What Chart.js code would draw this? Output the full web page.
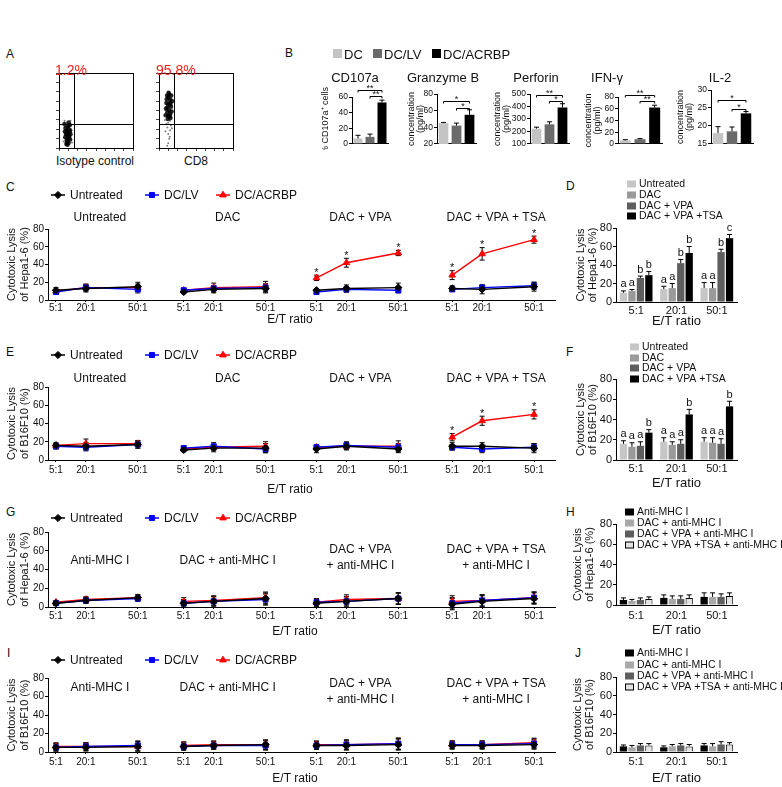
<!DOCTYPE html>
<html>
<head>
<meta charset="utf-8">
<script src="https://cdn.jsdelivr.net/npm/chart.js@4.4.1/dist/chart.umd.min.js"></script>
<style>
  body { margin: 0; background: #fff; }
  #fig { position: relative; width: 782px; height: 787px; overflow: hidden; background: #fff;
         font-family: 'Liberation Sans', Arial, sans-serif; color: #111; }
  #fig canvas { position: absolute; }
  .t { position: absolute; white-space: nowrap; line-height: 1; }
  .sw { position: absolute; }
</style>
</head>
<body>
<div id="fig"></div>
<script>
const FONT = "'Liberation Sans', Arial, sans-serif";

// ---------- A: flow cytometry dots (log decades 0..4) ----------
const isotypeDots = [[0.45,0.5],[0.5,0.7],[0.42,0.9],[0.55,0.62],[0.38,0.75],[0.5,1.02],[0.56,0.86],[0.42,0.4],
  [0.52,0.28],[0.48,1.18],[0.36,1.06],[0.6,0.95],[0.34,0.58],[0.6,0.45],[0.46,0.18],[0.58,1.22],[0.3,1.28],
  [0.52,1.36],[0.44,0.66],[0.53,0.52],[0.4,0.22],[0.62,0.74],[0.32,0.88],[0.47,0.82]];
const isotypeTail = [[0.3,1.45],[0.62,1.45],[0.25,0.35],[0.7,0.3],[0.28,1.1]];
const cd8Dots = [[0.5,1.7],[0.55,2.0],[0.5,2.3],[0.6,2.6],[0.45,1.9],[0.65,2.2],[0.4,2.4],[0.55,2.85],[0.6,1.8],
  [0.45,2.15],[0.7,2.5],[0.5,2.7],[0.36,1.75],[0.62,1.6],[0.42,2.6],[0.58,2.4],[0.48,1.55],[0.66,2.8],[0.52,2.95],
  [0.38,2.1],[0.68,1.95],[0.44,2.8],[0.56,1.7],[0.62,2.35]];
const cd8Tail = [[0.5,1.35],[0.45,1.1],[0.6,0.95],[0.5,0.75],[0.55,0.5],[0.4,1.3],[0.65,1.2],[0.5,0.25],[0.35,0.9],
  [0.58,0.6],[0.44,0.12],[0.6,1.45],[0.32,1.5],[0.7,1.05]];
const gateX = 0.8, gateY = 1.3;

// ---------- B: cytokines ----------
const bGroups = ['DC', 'DC/LV', 'DC/ACRBP'];
const cd107a = [7, 9, 53],        cd107aErr = [4, 3.5, 3];
const granzymeB = [45, 42, 55],   granzymeBErr = [0.8, 3, 6];
const perforin = [222, 257, 392], perforinErr = [12, 20, 30];
const ifng = [6, 8, 62],          ifngErr = [1.2, 1, 4];
const il2 = [18, 18.5, 23.5],     il2Err = [1.8, 1.2, 0.5];
// [stars, from bar, to bar, height]
const cd107aSig = [['**', 0, 2, 69], ['**', 1, 2, 61]];
const granzymeSig = [['*', 0, 2, 71], ['*', 1, 2, 63]];
const perforinSig = [['**', 0, 2, 490], ['*', 1, 2, 440]];
const ifngSig = [['**', 0, 2, 84], ['**', 1, 2, 73]];
const il2Sig = [['*', 0, 2, 27.2], ['*', 1, 2, 24.8]];

// ---------- C, E, G, I: lysis curves, per group [5:1, 20:1, 50:1] ----------
const ratios = ['5:1', '20:1', '50:1'];
const effectors = ['Untreated', 'DC/LV', 'DC/ACRBP'];
const drugGroups = [['Untreated'], ['DAC'], ['DAC + VPA'], ['DAC + VPA + TSA']];
const mhcGroups = [['Anti-MHC I'], ['DAC + anti-MHC I'], ['DAC + VPA', '+ anti-MHC I'], ['DAC + VPA + TSA', '+ anti-MHC I']];

const hepaUntreated = [[11, 13, 15], [9, 12, 13], [11, 13, 14], [13, 12, 15]];
const hepaDCLV      = [[9, 14, 12], [11, 13, 14], [9, 12, 11], [12, 14, 16]];
const hepaACRBP     = [[10, 14, 14], [11, 14, 15], [25, 42, 53], [28, 52, 68]];
const hepaUntreatedErr = [[3, 4, 5], [2, 4, 5], [2, 4, 5], [3, 5, 5]];
const hepaDCLVErr      = [[2, 3, 4], [2, 3, 4], [2, 3, 3], [2, 3, 4]];
const hepaACRBPErr     = [[2, 4, 4], [2, 5, 6], [3, 5, 3], [5, 7, 4]];
const hepaStars = [2, 3];

const b16Untreated = [[16, 15, 17], [11, 13, 13], [12, 15, 12], [15, 15, 13]];
const b16DCLV      = [[15, 14, 17], [13, 15, 12], [14, 16, 14], [14, 12, 14]];
const b16ACRBP     = [[16, 18, 18], [12, 14, 15], [14, 15, 15], [25, 43, 50]];
const b16UntreatedErr = [[3, 4, 4], [2, 4, 5], [4, 4, 4], [4, 4, 5]];
const b16DCLVErr      = [[3, 4, 4], [2, 4, 4], [3, 4, 4], [3, 4, 4]];
const b16ACRBPErr     = [[2, 5, 3], [2, 3, 5], [2, 3, 6], [4, 5, 5]];
const b16Stars = [3];

const mhcHepaUntreated = [[4, 7, 10], [4, 6, 9], [4, 6, 9], [3, 6, 9]];
const mhcHepaDCLV      = [[4, 7, 9], [4, 6, 8], [5, 6, 9], [4, 7, 10]];
const mhcHepaACRBP     = [[5, 8, 10], [6, 7, 10], [5, 8, 9], [6, 7, 10]];
const mhcHepaErr       = [[2, 3, 3], [4, 5, 6], [4, 5, 6], [6, 6, 6]];

const mhcB16Untreated = [[5, 5, 6], [6, 7, 8], [7, 7, 8], [7, 7, 8]];
const mhcB16DCLV      = [[5, 6, 7], [6, 7, 7], [7, 8, 9], [8, 8, 9]];
const mhcB16ACRBP     = [[6, 6, 6], [7, 8, 8], [8, 8, 9], [8, 8, 10]];
const mhcB16Err       = [[4, 4, 5], [4, 4, 5], [4, 5, 6], [4, 4, 5]];

// ---------- D, F, H, J: grouped bars, per treatment [5:1, 20:1, 50:1] ----------
const drugLabels = ['Untreated', 'DAC', 'DAC + VPA', 'DAC + VPA +TSA'];
const hepaBarMeans = [[10, 14, 15], [12, 15, 15], [26, 42, 54], [29, 53, 69]];
const hepaBarErr = [[2, 3, 6], [1.5, 5, 6], [2, 4, 3], [4, 7, 4]];
const hepaBarLetters = [['a', 'a', 'a'], ['a', 'a', 'a'], ['b', 'b', 'b'], ['b', 'b', 'c']];
const b16BarMeans = [[16, 18, 18], [13, 15, 17], [14, 16, 16], [27, 45, 53]];
const b16BarErr = [[3, 4, 4], [4, 3, 5], [4, 4, 5], [3, 5, 5]];
const b16BarLetters = [['a', 'a', 'a'], ['a', 'a', 'a'], ['a', 'a', 'a'], ['b', 'b', 'b']];
const mhcLabels = ['Anti-MHC I', 'DAC + anti-MHC I', 'DAC + VPA + anti-MHC I', 'DAC + VPA +TSA + anti-MHC I'];
const mhcHepaBarMeans = [[5, 7, 8], [4, 6, 8], [5, 6, 8], [6, 7, 9]];
const mhcHepaBarErr = [[2, 3, 4], [1.5, 3, 4], [2, 3, 3], [2, 3, 3]];
const mhcB16BarMeans = [[6, 5, 7], [5, 6, 6], [7, 7, 8], [7, 6, 8]];
const mhcB16BarErr = [[1.5, 1.5, 2], [2, 2, 3], [2, 2, 3], [2, 2, 2]];

// ---------- setup ----------
Chart.defaults.font.family = FONT;
Chart.defaults.color = '#111';
Chart.defaults.animation = false;
Chart.defaults.responsive = false;
Chart.defaults.maintainAspectRatio = false;
Chart.defaults.events = [];
Chart.defaults.plugins.legend.display = false;
Chart.defaults.plugins.tooltip.enabled = false;

const fig = document.getElementById('fig');

function canvasAt(left, top, w, h) {
  const c = document.createElement('canvas');
  c.width = w; c.height = h;
  c.style.left = left + 'px'; c.style.top = top + 'px';
  c.style.width = w + 'px'; c.style.height = h + 'px';
  fig.appendChild(c);
  return c;
}

function text(s, x, y, size, o = {}) {
  const d = document.createElement('div');
  d.className = 't';
  d.textContent = s;
  d.style.left = x + 'px';
  d.style.top = y + 'px';
  d.style.fontSize = size + 'px';
  if (o.color) d.style.color = o.color;
  d.style.transform = o.center ? 'translate(-50%,-50%)' : 'translateY(-50%)';
  fig.appendChild(d);
}

function swatch(x, y, w, h, fill) {
  const d = document.createElement('div');
  d.className = 'sw';
  Object.assign(d.style, { left: x + 'px', top: y + 'px', width: w + 'px', height: h + 'px', background: fill });
  fig.appendChild(d);
}

function errBar(ctx, px, yScale, v, e, both, cap) {
  const yt = yScale.getPixelForValue(v + e);
  const yb = both ? yScale.getPixelForValue(v - e) : yScale.getPixelForValue(v);
  ctx.beginPath();
  ctx.moveTo(px, yb); ctx.lineTo(px, yt);
  ctx.moveTo(px - cap, yt); ctx.lineTo(px + cap, yt);
  if (both) { ctx.moveTo(px - cap, yb); ctx.lineTo(px + cap, yb); }
  ctx.stroke();
}

// ---------- panel letters ----------
[['A', 6, 54], ['B', 285, 53], ['C', 6, 187], ['D', 566, 186], ['E', 6, 352], ['F', 566, 352],
 ['G', 6, 512], ['H', 566, 512], ['I', 7, 653], ['J', 575, 653]].forEach(([l, x, y]) => text(l, x, y, 12));

// ---------- A ----------
function flowPlot(left, dots, tail) {
  const cv = canvasAt(left, 68, 90, 86);
  new Chart(cv, {
    type: 'scatter',
    data: { datasets: [
      { data: dots.map(([x, y]) => ({ x, y })), pointRadius: 2.3, backgroundColor: 'rgba(0,0,0,0.85)', borderWidth: 0 },
      { data: tail.map(([x, y]) => ({ x, y })), pointRadius: 1, backgroundColor: 'rgba(0,0,0,0.5)', borderWidth: 0 }
    ] },
    options: {
      layout: { padding: { top: 5, right: 7, left: 0, bottom: 0 } },
      scales: {
        x: { min: 0, max: 4, afterFit: s => { s.height = 6; }, ticks: { display: false, stepSize: 0.5 },
             grid: { drawOnChartArea: false, tickLength: 3, color: '#444' }, border: { color: '#000' } },
        y: { min: 0, max: 4, afterFit: s => { s.width = 9; }, ticks: { display: false, stepSize: 0.5 },
             grid: { drawOnChartArea: false, tickLength: 3, color: '#444' }, border: { color: '#000' } }
      }
    },
    plugins: [{
      id: 'gate',
      afterDraw(chart) {
        const { ctx, chartArea: a, scales: { x, y } } = chart;
        ctx.save();
        ctx.strokeStyle = '#000'; ctx.lineWidth = 1;
        ctx.strokeRect(a.left + 0.5, a.top + 0.5, a.right - a.left, a.bottom - a.top);
        const gx = Math.round(x.getPixelForValue(gateX)) + 0.5, gy = Math.round(y.getPixelForValue(gateY)) + 0.5;
        ctx.beginPath();
        ctx.moveTo(gx, a.top); ctx.lineTo(gx, a.bottom);
        ctx.moveTo(a.left, gy); ctx.lineTo(a.right, gy);
        ctx.stroke();
        ctx.restore();
      }
    }]
  });
}
flowPlot(50, isotypeDots, isotypeTail);
flowPlot(150, cd8Dots, cd8Tail);
text('1.2%', 55, 70, 14, { color: '#ff1a1a' });
text('95.8%', 156, 70, 14, { color: '#ff1a1a' });
text('Isotype control', 95, 161, 12, { center: true });
text('CD8', 196, 161, 12, { center: true });

// ---------- B ----------
const bColors = ['#c4c4c4', '#6a6a6a', '#000000'];
[[333, 'DC', 344], [373, 'DC/LV', 384], [432, 'DC/ACRBP', 443]].forEach(([x, l, tx], i) => {
  swatch(x, 49, 9, 9, bColors[i]);
  text(l, tx, 54, 13);
});

function cytoChart(o) {
  const cv = canvasAt(o.left, 80, o.right + 3 - o.left, 70);
  new Chart(cv, {
    type: 'bar',
    data: { labels: bGroups, datasets: [{ data: o.data, backgroundColor: bColors, borderWidth: 0,
      barPercentage: 0.75, categoryPercentage: 1 }] },
    options: {
      layout: { padding: { top: o.top - 80, right: 3, bottom: 0, left: 0 } },
      scales: {
        x: { afterFit: s => { s.height = 3; }, ticks: { display: false }, grid: { display: false, drawTicks: false }, border: { color: '#000' } },
        y: { min: o.min, max: o.max, afterFit: s => { s.width = o.axis - o.left; },
             ticks: { stepSize: o.step, padding: 1, font: { size: 8.5 } },
             grid: { drawOnChartArea: false, tickLength: 3, color: '#000' }, border: { color: '#000' },
             title: { display: true, text: o.yTitle, font: { size: 9, lineHeight: 1 }, padding: { top: 3.5, bottom: 0 } } }
      }
    },
    plugins: [{
      id: 'cyto',
      afterDatasetsDraw(chart) {
        const { ctx, scales: { y } } = chart;
        const meta = chart.getDatasetMeta(0);
        ctx.save();
        ctx.strokeStyle = '#000'; ctx.lineWidth = 1;
        o.data.forEach((v, i) => errBar(ctx, meta.data[i].x, y, v, o.err[i], false, 2.5));
        ctx.fillStyle = '#111'; ctx.font = '9px ' + FONT; ctx.textAlign = 'center'; ctx.textBaseline = 'bottom';
        o.sig.forEach(([s, a, b, h]) => {
          const x1 = meta.data[a].x, x2 = meta.data[b].x, py = Math.round(y.getPixelForValue(h)) + 0.5;
          ctx.beginPath();
          ctx.moveTo(x1, py + 2); ctx.lineTo(x1, py); ctx.lineTo(x2, py); ctx.lineTo(x2, py + 2);
          ctx.stroke();
          ctx.fillText(s, (x1 + x2) / 2, py + 3);
        });
        ctx.restore();
      }
    }]
  });
  text(o.title, o.tx, 77, 13, { center: true });
}
cytoChart({ left: 318, axis: 352, right: 388, top: 97, min: 0, max: 60, step: 20, data: cd107a, err: cd107aErr,
  sig: cd107aSig, yTitle: '% CD107a\u207A cells', title: 'CD107a', tx: 355 });
cytoChart({ left: 404, axis: 437, right: 476, top: 94, min: 20, max: 80, step: 20, data: granzymeB, err: granzymeBErr,
  sig: granzymeSig, yTitle: ['concentration', '(pg/ml)'], title: 'Granzyme B', tx: 443 });
cytoChart({ left: 490, axis: 530, right: 569, top: 94, min: 100, max: 500, step: 100, data: perforin, err: perforinErr,
  sig: perforinSig, yTitle: ['concentration', '(pg/ml)'], title: 'Perforin', tx: 536 });
cytoChart({ left: 581, axis: 618, right: 662, top: 97, min: 0, max: 80, step: 20, data: ifng, err: ifngErr,
  sig: ifngSig, yTitle: ['concentration', '(pg/ml)'], title: 'IFN-\u03B3', tx: 607 });
cytoChart({ left: 673, axis: 711, right: 753, top: 90, min: 15, max: 30, step: 5, data: il2, err: il2Err,
  sig: il2Sig, yTitle: ['concentration', '(pg/ml)'], title: 'IL-2', tx: 720 });

// ---------- line rows ----------
const GROUP_X = [8, 136, 269, 405];
const RATIO_X = [0, 30, 82];
const lineLook = [
  { color: '#000000', style: 'rectRot', r: 3.6 },
  { color: '#0000ff', style: 'rect', r: 3.6 },
  { color: '#ff0000', style: 'triangle', r: 3.8 }
];
const LEG_X = [58, 152, 223];

function linePoints(vals) {
  const pts = [];
  vals.forEach((g, gi) => {
    g.forEach((v, ri) => pts.push({ x: GROUP_X[gi] + RATIO_X[ri], y: v }));
    pts.push({ x: GROUP_X[gi] + 110, y: null });
  });
  return pts;
}

function lineRow(o) {
  const top = o.top, H = o.etY + 8 - top;
  const cv = canvasAt(0, top, 560, H);
  const tickVals = [];
  GROUP_X.forEach(g => RATIO_X.forEach(r => tickVals.push(g + r)));
  new Chart(cv, {
    type: 'line',
    data: { datasets: o.series.map((vals, i) => ({
      label: effectors[i], data: linePoints(vals),
      borderColor: lineLook[i].color, backgroundColor: lineLook[i].color,
      pointStyle: lineLook[i].style, pointRadius: lineLook[i].r, pointBorderWidth: 1,
      borderWidth: 1.4, spanGaps: false, tension: 0
    })) },
    options: {
      layout: { padding: { top: o.areaT - top, right: 5, bottom: 0, left: 0 } },
      scales: {
        x: {
          type: 'linear', min: 0, max: 508,
          afterBuildTicks: s => { s.ticks = tickVals.map(v => ({ value: v })); },
          afterFit: s => { s.height = H - (o.areaB - top); },
          ticks: { autoSkip: false, maxRotation: 0, padding: o.tickPad, font: { size: 10 },
                   callback: (v, i) => ratios[i % 3] },
          grid: { drawOnChartArea: false, tickLength: 2, color: '#000' },
          border: { color: '#000' }
        },
        y: {
          min: 0, max: 80,
          afterFit: s => { s.width = 48; },
          ticks: { stepSize: 20, padding: 1, font: { size: 10 } },
          grid: { drawOnChartArea: false, tickLength: 3, color: '#000' },
          border: { color: '#000' },
          title: { display: true, text: o.yTitle, font: { size: 11, lineHeight: 1.15 }, padding: { top: 5.5, bottom: 0 } }
        }
      }
    },
    plugins: [{
      id: 'rowMarks',
      beforeDatasetsDraw(chart) {
        const { ctx, scales: { x, y } } = chart;
        ctx.save();
        ctx.strokeStyle = '#000'; ctx.lineWidth = 1;
        o.errs.forEach((se, si) => se.forEach((g, gi) => g.forEach((e, ri) => {
          errBar(ctx, x.getPixelForValue(GROUP_X[gi] + RATIO_X[ri]), y, o.series[si][gi][ri], e, true, 2.5);
        })));
        ctx.restore();
      },
      afterDraw(chart) {
        const { ctx, scales: { x, y } } = chart;
        ctx.save();
        ctx.fillStyle = '#111';
        // stars over DC/ACRBP
        ctx.font = '11px ' + FONT; ctx.textAlign = 'center'; ctx.textBaseline = 'bottom';
        o.stars.forEach(gi => o.series[2][gi].forEach((v, ri) => {
          const px = x.getPixelForValue(GROUP_X[gi] + RATIO_X[ri]);
          ctx.fillText('*', px, y.getPixelForValue(v + o.errs[2][gi][ri]) + 3);
        }));
        // group titles
        ctx.font = '12px ' + FONT; ctx.textBaseline = 'middle';
        o.groups.forEach((lines, gi) => {
          const px = x.getPixelForValue(GROUP_X[gi] + 44);
          const ys = lines.length === 1 ? [o.subY1] : o.subY2;
          lines.forEach((l, k) => ctx.fillText(l, px, ys[k] - top));
        });
        // x title
        ctx.fillText('E/T ratio', o.etX, o.etY - top);
        // legend
        ctx.textAlign = 'left';
        effectors.forEach((name, i) => {
          const lx = LEG_X[i], ly = o.legY - top, lk = lineLook[i];
          ctx.strokeStyle = lk.color; ctx.fillStyle = lk.color; ctx.lineWidth = 1.5;
          ctx.beginPath(); ctx.moveTo(lx - 7, ly); ctx.lineTo(lx + 7, ly); ctx.stroke();
          ctx.lineWidth = 1;
          Chart.helpers.drawPoint(ctx, { pointStyle: lk.style, radius: lk.r, rotation: 0, borderWidth: 1 }, lx, ly);
          ctx.fillStyle = '#111';
          ctx.fillText(name, lx + 12, ly + 0.5);
        });
        ctx.restore();
      }
    }]
  });
}

lineRow({ top: 180, areaT: 229, areaB: 300, etY: 320, etX: 290, tickPad: 0, legY: 195, subY1: 218,
  yTitle: ['Cytotoxic Lysis', 'of Hepa1-6 (%)'], groups: drugGroups, stars: hepaStars,
  series: [hepaUntreated, hepaDCLV, hepaACRBP], errs: [hepaUntreatedErr, hepaDCLVErr, hepaACRBPErr] });
lineRow({ top: 342, areaT: 387, areaB: 460, etY: 490, etX: 290, tickPad: 2, legY: 355, subY1: 379,
  yTitle: ['Cytotoxic Lysis', 'of B16F10 (%)'], groups: drugGroups, stars: b16Stars,
  series: [b16Untreated, b16DCLV, b16ACRBP], errs: [b16UntreatedErr, b16DCLVErr, b16ACRBPErr] });
lineRow({ top: 506, areaT: 532, areaB: 607, etY: 632, etX: 295, tickPad: 1, legY: 518, subY1: 561, subY2: [550, 566],
  yTitle: ['Cytotoxic Lysis', 'of Hepa1-6 (%)'], groups: mhcGroups, stars: [],
  series: [mhcHepaUntreated, mhcHepaDCLV, mhcHepaACRBP], errs: [mhcHepaErr, mhcHepaErr, mhcHepaErr] });
lineRow({ top: 650, areaT: 678, areaB: 752, etY: 779, etX: 295, tickPad: 2, legY: 660, subY1: 688, subY2: [684, 700],
  yTitle: ['Cytotoxic Lysis', 'of B16F10 (%)'], groups: mhcGroups, stars: [],
  series: [mhcB16Untreated, mhcB16DCLV, mhcB16ACRBP], errs: [mhcB16Err, mhcB16Err, mhcB16Err] });

// ---------- grouped bar panels ----------
const drugLook = [{ fill: '#c6c6c6' }, { fill: '#9a9a9a' }, { fill: '#5e5e5e' }, { fill: '#000000' }];
const mhcLook = [{ fill: '#000000' }, { fill: '#a8a8a8' }, { fill: '#5e5e5e' }, { fill: '#e2e2e2', edge: '#000000' }];

function barPanel(o) {
  const a = o.area, h = o.etY + 8 - o.top, w = 222;
  const cv = canvasAt(560, o.top, w, h);
  new Chart(cv, {
    type: 'bar',
    data: {
      labels: ratios,
      datasets: o.means.map((m, i) => ({
        label: o.labels[i], data: m,
        backgroundColor: o.look[i].fill, borderColor: o.look[i].edge || o.look[i].fill,
        borderWidth: o.look[i].edge ? 1 : 0, barPercentage: 0.86, categoryPercentage: 0.84
      }))
    },
    options: {
      layout: { padding: { top: a.t - o.top, right: 560 + w - a.r, bottom: 0, left: 0 } },
      scales: {
        x: {
          afterFit: s => { s.height = o.top + h - a.b; },
          ticks: { padding: o.tickPad, font: { size: 11 } },
          grid: { display: false, drawTicks: false, tickLength: 0 },
          border: { color: '#000' },
          title: { display: true, text: 'E/T ratio', font: { size: 13 }, padding: 0 }
        },
        y: {
          min: 0, max: 80,
          afterFit: s => { s.width = a.l - 560; },
          ticks: { stepSize: 20, padding: 1, font: { size: 11 } },
          grid: { drawOnChartArea: false, tickLength: 3, color: '#000' },
          border: { color: '#000' },
          title: { display: true, text: o.yTitle, font: { size: 11, lineHeight: 1.05 }, padding: { top: o.ytPad, bottom: 0 } }
        }
      }
    },
    plugins: [{
      id: 'barMarks',
      afterDatasetsDraw(chart) {
        const { ctx, scales: { y } } = chart;
        ctx.save();
        ctx.strokeStyle = '#000'; ctx.lineWidth = 1;
        ctx.fillStyle = '#111'; ctx.font = '11px ' + FONT; ctx.textAlign = 'center'; ctx.textBaseline = 'bottom';
        o.means.forEach((m, i) => {
          const meta = chart.getDatasetMeta(i);
          m.forEach((v, j) => {
            const px = meta.data[j].x;
            errBar(ctx, px, y, v, o.err[i][j], false, 2.5);
            if (o.letters) ctx.fillText(o.letters[i][j], px, y.getPixelForValue(v + o.err[i][j]) - 1);
          });
        });
        ctx.restore();
      },
      afterDraw(chart) {
        const ctx = chart.ctx;
        ctx.save();
        ctx.font = '10.5px ' + FONT; ctx.textBaseline = 'middle'; ctx.textAlign = 'left';
        o.labels.forEach((l, i) => {
          const ly = o.legYs[i] - o.top, lx = o.legX - 560, lk = o.look[i];
          ctx.fillStyle = lk.fill; ctx.fillRect(lx, ly - 3.5, 9, 7);
          if (lk.edge) { ctx.strokeStyle = lk.edge; ctx.lineWidth = 1; ctx.strokeRect(lx + 0.5, ly - 3, 8, 6); }
          ctx.fillStyle = '#111';
          ctx.fillText(l, lx + 12, ly + 0.5);
        });
        ctx.restore();
      }
    }]
  });
}

barPanel({ top: 175, area: { l: 616, t: 228, r: 737, b: 302 }, etY: 321, ytPad: 15.5, tickPad: 2.5,
  yTitle: ['Cytotoxic Lysis', 'of Hepa1-6 (%)'], labels: drugLabels, look: drugLook,
  means: hepaBarMeans, err: hepaBarErr, letters: hepaBarLetters, legX: 627, legYs: [184, 195, 206, 216] });
barPanel({ top: 338, area: { l: 616, t: 379, r: 737, b: 460 }, etY: 483, ytPad: 15.5, tickPad: 2.5,
  yTitle: ['Cytotoxic Lysis', 'of B16F10 (%)'], labels: drugLabels, look: drugLook,
  means: b16BarMeans, err: b16BarErr, letters: b16BarLetters, legX: 630, legYs: [347, 358, 368, 379] });
barPanel({ top: 505, area: { l: 616, t: 524, r: 737, b: 605 }, etY: 630, ytPad: 12.5, tickPad: 4,
  yTitle: ['Cytotoxic Lysis', 'of Hepa1-6 (%)'], labels: mhcLabels, look: mhcLook,
  means: mhcHepaBarMeans, err: mhcHepaBarErr, legX: 625, legYs: [512, 523, 534, 545] });
barPanel({ top: 646, area: { l: 616, t: 677, r: 737, b: 752 }, etY: 778, ytPad: 12.5, tickPad: 3.5,
  yTitle: ['Cytotoxic Lysis', 'of B16F10 (%)'], labels: mhcLabels, look: mhcLook,
  means: mhcB16BarMeans, err: mhcB16BarErr, legX: 625, legYs: [653, 665, 676, 687] });
</script>
</body>
</html>
